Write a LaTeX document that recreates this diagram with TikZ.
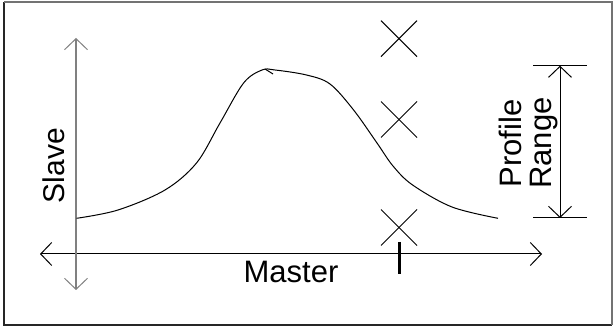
\documentclass[tikz,border=0pt]{standalone}
\usepackage{fontspec}
\setmainfont{Liberation Sans}
\usetikzlibrary{arrows.meta}
\begin{document}
\begin{tikzpicture}[x=1pt,y=-1pt,
  thin line/.style={line width=1pt,black},
  barb/.tip={Straight Barb[length=11pt,width=23pt,line width=1pt]},
  lbl/.style={inner sep=0pt,font=\fontsize{31}{37}\selectfont},
  cross/.style={line width=1pt,black}]
\useasboundingbox (0,0) rectangle (616,328);
% frame
\draw[line width=1.5pt,black!85] (4,2) -- (4,325) -- (612,325);
\draw[line width=1.5pt,black!55] (4,2) -- (612,2) -- (612,325);
% axes
\coordinate (vtop) at (76,38);
\coordinate (vbot) at (76,290);
\coordinate (hleft) at (40,254);
\coordinate (hright) at (542,254);
\draw[thin line,barb-barb] (hleft) -- (hright);
\draw[line width=1.4pt,black!50,barb-barb] (vtop) -- (vbot);
% tick
\coordinate (tt) at (399.5,242);
\coordinate (tb) at (399.5,274);
\draw[line width=3pt] (tt) -- (tb);
% curve
\draw[thin line] plot[smooth,tension=0.55] coordinates {(76.6,218.3) (118,210) (165,190) (196.5,163) (220,123) (243.6,83) (262,70) (275,70) (306.5,75) (330,84) (353.6,110) (377,143) (393,166) (412.6,185) (452,207) (498,218.3)};
\draw[thin line] (265,69) -- (273,74);
% crosses
\foreach \n/\cy in {a/38.7,b/119.5,c/227.5}{
  \coordinate (c\n) at (399,\cy);
  \draw[cross] ([shift={(-18,-18)}]c\n) -- ([shift={(18,18)}]c\n);
  \draw[cross] ([shift={(-18,18)}]c\n) -- ([shift={(18,-18)}]c\n);
}
% profile range
\coordinate (pt1) at (533,65.7);
\coordinate (pt2) at (587,65.7);
\coordinate (pb1) at (533,218);
\coordinate (pb2) at (587,218);
\coordinate (pat) at (560,65.7);
\coordinate (pab) at (560,218);
\draw[thin line] (pt1) -- (pt2);
\draw[thin line] (pb1) -- (pb2);
\draw[thin line,barb-barb] (pat) -- (pab);
% labels
\node[lbl,rotate=90,anchor=base,font=\fontsize{30}{36}\selectfont] (slave) at (64.3,165.8) {Slave};
\node[lbl,anchor=base] (master) at (291,283) {Master};
\node[lbl,rotate=90,anchor=base] (profile) at (521.7,143.5) {Profile};
\node[lbl,rotate=90,anchor=base] (range) at (551.7,143) {Range};
\end{tikzpicture}
\end{document}
